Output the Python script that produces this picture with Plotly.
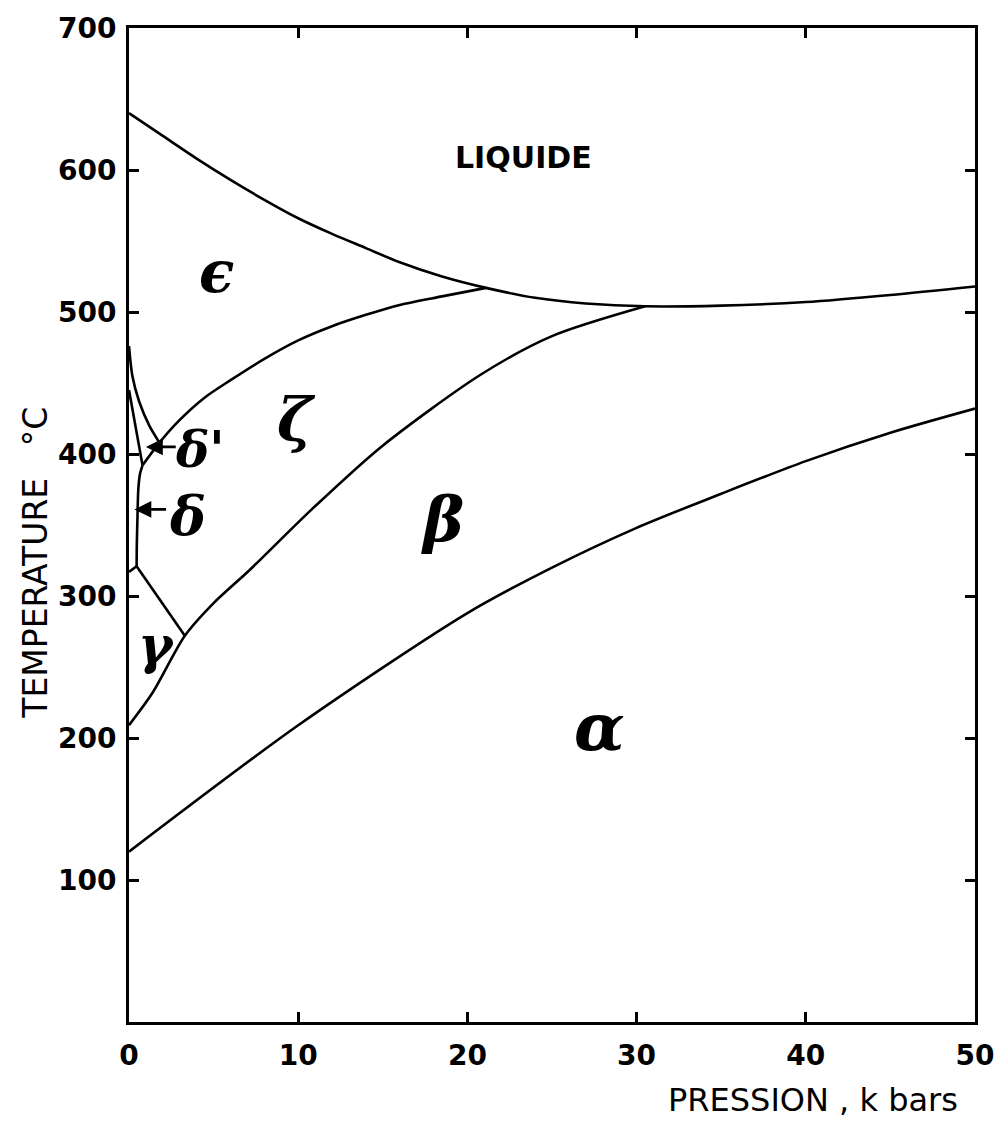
import plotly.graph_objects as go

# Phase boundaries of plutonium: pressure (kbar) vs temperature (deg C)
liquidus_p = [0, 2, 4, 6, 8, 10, 12, 14, 16, 18.5, 21.1, 24, 27, 30.5, 35, 40, 45, 50]
liquidus_t = [640, 624, 608, 593, 579, 566, 555, 545, 535, 525, 517, 510, 506, 504, 504.5, 507, 512, 518]

eps_zeta_p = [0.8, 1.8, 3, 4.5, 6, 8, 10, 12, 14, 16, 18.5, 21.1]
eps_zeta_t = [392, 408, 424, 440, 452, 467, 480, 490, 498, 505, 511, 517]

beta_zeta_p = [0, 1.4, 3.3, 5, 7.1, 10.8, 14.9, 20.8, 25, 30.5]
beta_zeta_t = [209, 232, 272, 295, 318, 361, 405, 456, 483, 504]

alpha_beta_p = [0, 10, 20, 25, 30, 35, 40, 45, 50]
alpha_beta_t = [120, 209, 288, 320, 348, 372, 395, 415, 432]

gamma_delta_p = [0, 0.45]
gamma_delta_t = [317, 321]

gamma_zeta_p = [0.45, 3.3]
gamma_zeta_t = [321, 272]

delta_zeta_p = [0.45, 0.46, 0.5, 0.55, 0.65, 0.8]
delta_zeta_t = [321, 335, 355, 375, 386, 392]

delta_deltap_p = [0, 0.4, 0.8]
delta_deltap_t = [445, 417, 392]

deltap_eps_p = [0, 0.2, 0.6, 1.2, 1.8]
deltap_eps_t = [476, 455, 437, 420, 408]

# Phase labels: (text, pressure, temperature, font size)
phase_labels = [
    ("ϵ", 5.2, 528, 58),
    ("ζ", 9.9, 424, 60),
    ("β", 18.5, 354, 62),
    ("α", 27.8, 208, 66),
    ("γ", 1.6, 266, 52),
    ("δ", 3.45, 356, 54),
    ("δ'", 4.2, 403, 50),
]

# Pointer arrows for the narrow delta fields: (tip_p, tip_t, tail_p, tail_t)
pointers = [
    (1.0, 405, 2.85, 405),
    (0.32, 361, 2.28, 361),
]

x_ticks = [0, 10, 20, 30, 40, 50]
y_ticks = [100, 200, 300, 400, 500, 600, 700]

LINE = dict(color="black", width=2.6)

fig = go.Figure()

smooth_sets = [
    (liquidus_p, liquidus_t),
    (eps_zeta_p, eps_zeta_t),
    (beta_zeta_p, beta_zeta_t),
    (alpha_beta_p, alpha_beta_t),
    (delta_zeta_p, delta_zeta_t),
    (deltap_eps_p, deltap_eps_t),
]
for px, ty in smooth_sets:
    fig.add_trace(go.Scatter(x=px, y=ty, mode="lines",
                             line=dict(LINE, shape="spline", smoothing=0.8),
                             hoverinfo="skip", showlegend=False))

straight_sets = [
    (gamma_delta_p, gamma_delta_t),
    (gamma_zeta_p, gamma_zeta_t),
    (delta_deltap_p, delta_deltap_t),
]
for px, ty in straight_sets:
    fig.add_trace(go.Scatter(x=px, y=ty, mode="lines", line=LINE,
                             hoverinfo="skip", showlegend=False))

for text, p, t, size in phase_labels:
    fig.add_annotation(x=p, y=t, xref="x", yref="y", text=text, showarrow=False,
                       font=dict(family="DejaVu Serif", size=size, color="black",
                                 weight="bold", style="italic"))

for tip_p, tip_t, tail_p, tail_t in pointers:
    fig.add_annotation(x=tip_p, y=tip_t, ax=tail_p, ay=tail_t, xref="x", yref="y",
                       axref="x", ayref="y", text="", showarrow=True,
                       arrowhead=2, arrowsize=1.3, arrowwidth=2.6, arrowcolor="black")

fig.add_annotation(x=23.3, y=609, xref="x", yref="y", text="LIQUIDE", showarrow=False,
                   font=dict(family="DejaVu Sans", size=30, color="black", weight="bold"))

fig.add_annotation(x=0.982, y=-0.078, xref="paper", yref="paper", xanchor="right",
                   yanchor="middle", text="PRESSION , k bars", showarrow=False,
                   font=dict(family="DejaVu Sans", size=32, color="black"))

fig.add_annotation(x=-0.110, y=0.462, xref="paper", yref="paper", xanchor="center",
                   yanchor="middle", textangle=-90,
                   text="TEMPERATURE   °C", showarrow=False,
                   font=dict(family="DejaVu Sans", size=33, color="black"))

axis_common = dict(showgrid=False, zeroline=False, showline=True, linecolor="black",
                   linewidth=3, mirror="ticks", ticks="inside", ticklen=10,
                   tickwidth=2.5, tickcolor="black",
                   tickfont=dict(family="DejaVu Sans", size=28, color="black",
                                 weight="bold"))

fig.update_xaxes(range=[0, 50], tickvals=x_ticks, ticktext=[str(v) for v in x_ticks],
                 ticklabelstandoff=6, **axis_common)
fig.update_yaxes(range=[0, 700], tickvals=y_ticks, ticktext=[str(v) for v in y_ticks],
                 ticklabelstandoff=4, **axis_common)

fig.update_layout(width=1006, height=1127, margin=dict(l=129, r=26, t=23, b=105),
                  plot_bgcolor="white", paper_bgcolor="white")

fig.write_html("out.html")
